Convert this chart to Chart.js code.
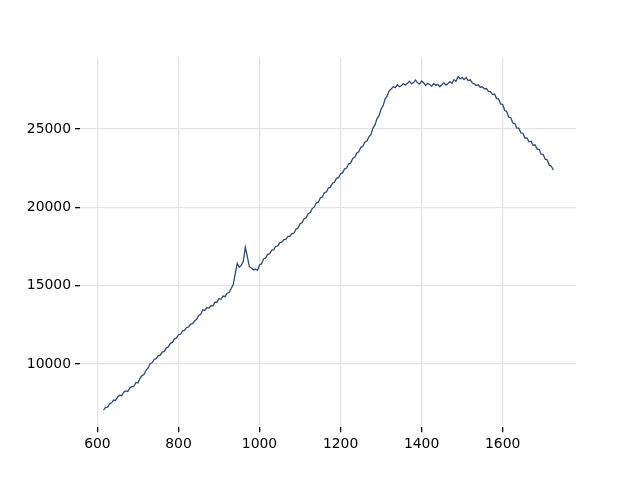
<!DOCTYPE html>
<html>
<head>
<meta charset="utf-8">
<script src="https://cdn.jsdelivr.net/npm/chart.js@4/dist/chart.umd.min.js"></script>
<style>
  html, body { margin: 0; padding: 0; background: #fff; }
  canvas { display: block; }
</style>
</head>
<body>
<canvas id="lineChart" width="640" height="480"></canvas>
<script>
// wavenumber positions
const xValues = [
  615,620,625,630,635,640,645,650,655,660,665,670,675,680,685,690,695,700,705,710,
  715,720,725,730,735,740,745,750,755,760,765,770,775,780,785,790,795,800,805,810,
  815,820,825,830,835,840,845,850,855,860,865,870,875,880,885,890,895,900,905,910,
  915,920,925,930,935,940,945,950,955,960,965,970,975,980,985,990,995,1000,1005,1010,
  1015,1020,1025,1030,1035,1040,1045,1050,1055,1060,1065,1070,1075,1080,1085,1090,1095,1100,1105,1110,
  1115,1120,1125,1130,1135,1140,1145,1150,1155,1160,1165,1170,1175,1180,1185,1190,1195,1200,1205,1210,
  1215,1220,1225,1230,1235,1240,1245,1250,1255,1260,1265,1270,1275,1280,1285,1290,1295,1300,1305,1310,
  1315,1320,1325,1330,1335,1340,1345,1350,1355,1360,1365,1370,1375,1380,1385,1390,1395,1400,1405,1410,
  1415,1420,1425,1430,1435,1440,1445,1450,1455,1460,1465,1470,1475,1480,1485,1490,1495,1500,1505,1510,
  1515,1520,1525,1530,1535,1540,1545,1550,1555,1560,1565,1570,1575,1580,1585,1590,1595,1600,1605,1610,
  1615,1620,1625,1630,1635,1640,1645,1650,1655,1660,1665,1670,1675,1680,1685,1690,1695,1700,1705,1710,
  1715,1720,1725
];

// intensity
const intensity = [
  7060,7230,7250,7450,7520,7700,7680,7900,8010,7980,8200,8280,8250,8470,8560,8580,8820,8790,9080,9260,
  9330,9600,9750,10020,10080,10290,10340,10520,10560,10760,10800,11030,11090,11320,11380,11610,11650,11870,11900,12120,
  12150,12330,12360,12550,12570,12760,12850,13100,13180,13460,13420,13600,13570,13720,13710,13950,13940,14170,14130,14340,
  14300,14520,14560,14820,15050,15750,16420,16180,16300,16550,17450,16850,16200,16130,16000,16060,15980,16320,16400,16700,
  16760,17000,17040,17260,17300,17500,17540,17750,17770,17940,17950,18140,18150,18330,18350,18600,18680,18960,19020,19270,
  19330,19600,19670,19920,20010,20280,20330,20600,20660,20930,20980,21240,21290,21540,21600,21850,21890,22150,22200,22460,
  22510,22780,22830,23120,23190,23470,23540,23830,23890,24170,24230,24500,24640,25060,25260,25660,25850,26280,26480,26930,
  27100,27450,27550,27700,27640,27820,27700,27760,27900,27800,27920,28050,27880,27960,28120,27950,27880,28060,27950,27780,
  27920,27840,27720,27900,27780,27850,27700,27820,27960,27800,27900,28020,27920,28150,28050,28350,28200,28300,28150,28280,
  28080,28150,27950,27880,27780,27820,27650,27700,27560,27580,27400,27380,27200,27230,26940,26930,26600,26560,26200,26120,
  25760,25720,25380,25350,25050,25050,24750,24730,24420,24430,24180,24220,23960,23990,23720,23700,23390,23380,23070,23040,
  22700,22620,22380
];

const xTicks = [600, 800, 1000, 1200, 1400, 1600];
const yTicks = [10000, 15000, 20000, 25000];

const tickFont = { family: 'DejaVu Sans', size: 13.9 };

new Chart(document.getElementById('lineChart'), {
  type: 'line',
  data: {
    datasets: [{
      data: xValues.map((x, i) => ({ x: x, y: intensity[i] })),
      borderColor: '#2f4a72',
      borderWidth: 1.3,
      pointRadius: 0,
      tension: 0,
      fill: false
    }]
  },
  options: {
    responsive: false,
    animation: false,
    layout: { padding: { top: 57.6, right: 64, left: 0, bottom: 0 } },
    plugins: { legend: { display: false }, tooltip: { enabled: false } },
    scales: {
      x: {
        type: 'linear',
        min: 557,
        max: 1781,
        afterBuildTicks: s => { s.ticks = xTicks.map(v => ({ value: v })); },
        afterFit: s => { s.height = 52.8; },
        border: { display: false },
        grid: { color: '#e5e5e5', lineWidth: 1.3, tickColor: '#000', tickLength: 5 },
        ticks: { color: '#000', font: tickFont, padding: 4, maxRotation: 0, callback: v => String(v) }
      },
      y: {
        type: 'linear',
        min: 5966,
        max: 29557,
        afterBuildTicks: s => { s.ticks = yTicks.map(v => ({ value: v })); },
        afterFit: s => { s.width = 80; },
        border: { display: false },
        grid: { color: '#e5e5e5', lineWidth: 1.3, tickColor: '#000', tickLength: 5 },
        ticks: { color: '#000', font: tickFont, padding: 4, callback: v => String(v) }
      }
    }
  }
});
</script>
</body>
</html>
